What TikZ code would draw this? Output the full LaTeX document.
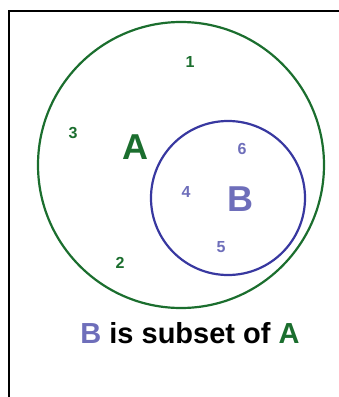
\documentclass[tikz,border=0pt]{standalone}
\usepackage{fontspec}
\setmainfont{Liberation Sans}
\usepackage{tikz}
\usetikzlibrary{positioning}

\definecolor{setgreen}{HTML}{1B6E2E}
\definecolor{setblue}{HTML}{3838A0}
\definecolor{setlav}{HTML}{6E6EBA}

\begin{document}
\begin{tikzpicture}[x=1pt, y=-1pt,
    setcirc/.style={draw, circle, line width=2.2pt, inner sep=0pt},
    elem/.style={font=\fontsize{16}{16}\selectfont\bfseries, inner sep=0pt},
    setlbl/.style={font=\fontsize{36}{36}\selectfont\bfseries, inner sep=0pt}
]
\useasboundingbox (0,0) rectangle (339,397);
\draw[line width=2pt] (9,397) -- (9,11) -- (339,11);

% the two sets
\node[setcirc, setgreen, minimum size=286pt] (setA) at (181,165) {};
\node[setcirc, setblue, minimum size=154pt] (setB) at (228,198) {};

\node[setlbl, setgreen] (lblA) at (135,147) {A};
\node[setlbl, setlav] (lblB) at (240,199) {B};

% elements
\node[elem, setgreen] (e1) at (190,62) {1};
\node[elem, setgreen] (e2) at (120,263) {2};
\node[elem, setgreen] (e3) at (73,133) {3};
\node[elem, setlav] (e4) at (186,192) {4};
\node[elem, setlav] (e5) at (221,247) {5};
\node[elem, setlav] (e6) at (242,149) {6};

\node[font=\fontsize{29}{29}\selectfont\bfseries, inner sep=0pt] (caption) at (190,333)
  {\textcolor{setlav}{B} is subset of \textcolor{setgreen}{A}};
\end{tikzpicture}
\end{document}
